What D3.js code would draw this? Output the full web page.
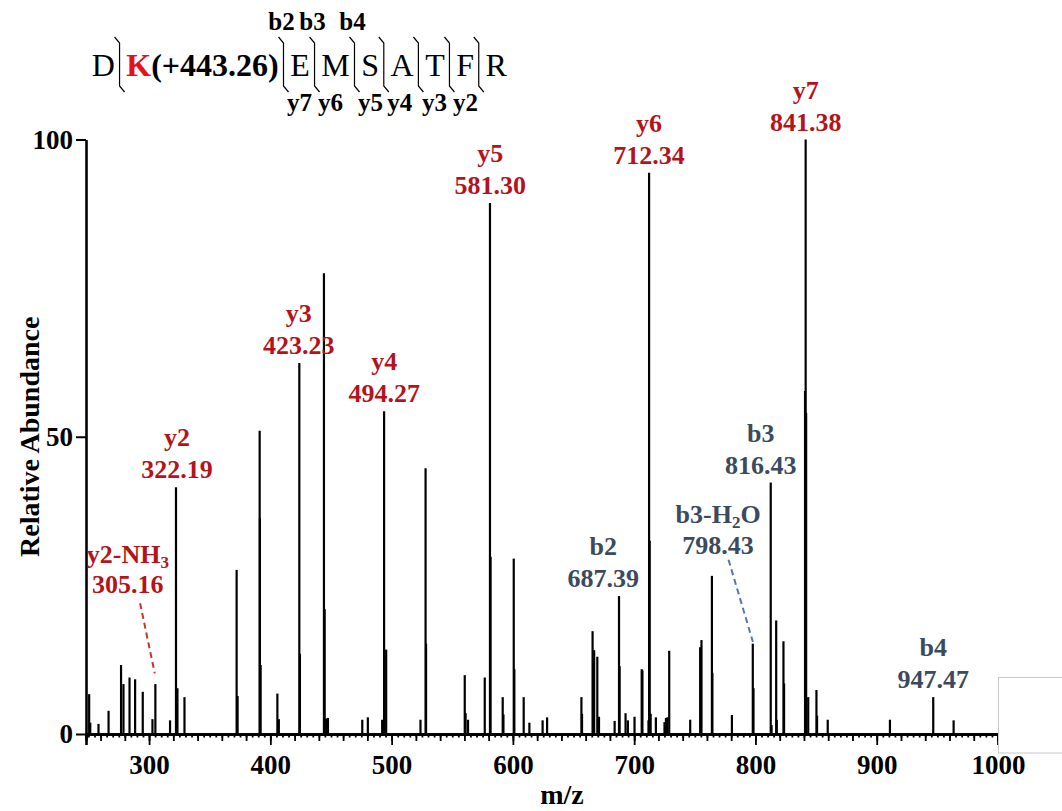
<!DOCTYPE html>
<html>
<head>
<meta charset="utf-8">
<script src="https://cdn.jsdelivr.net/npm/d3@7"></script>
<style>
  body { margin: 0; background: #fff; }
  svg text { font-family: "Liberation Serif", "Times New Roman", serif; }
</style>
</head>
<body>
<div id="chart"></div>
<script>
// peaks: m/z and relative abundance
const peakMz = [250.6, 251.5, 258.3, 266.6, 276.9, 278.9, 283.9, 288.5, 294.8, 302.8,
    305.2, 317.3, 322.2, 323.4, 329.2, 372.2, 373.0, 391.2, 391.4, 392.0,
    405.8, 407.0, 423.9, 424.4, 444.2, 444.8, 446.0, 447.5, 475.8, 480.4,
    492.2, 493.8, 495.5, 523.8, 528.0, 528.4, 560.3, 561.0, 563.0, 576.8,
    581.1, 581.6, 591.6, 592.2, 600.7, 601.2, 608.9, 613.6, 624.5, 628.2,
    656.5, 657.0, 665.7, 667.0, 669.6, 671.0, 683.9, 687.5, 688.0, 692.9,
    694.8, 700.3, 706.2, 706.8, 711.8, 712.3, 712.8, 713.6, 717.9, 725.0,
    726.2, 727.4, 728.9, 746.2, 754.4, 755.5, 764.1, 764.5, 780.6, 797.8,
    798.4, 812.6, 813.3, 817.1, 817.6, 823.1, 823.6, 840.9, 841.4, 841.8,
    843.5, 850.3, 850.8, 859.6, 910.9, 946.6, 963.4];
const peakInt = [6.7, 1.9, 1.7, 3.9, 11.6, 8.4, 9.5, 9.2, 7.1, 2.5,
    8.4, 2.3, 41.5, 7.7, 6.2, 27.6, 6.4, 51.0, 36.3, 11.6,
    6.8, 2.5, 62.4, 13.5, 77.5, 21.0, 2.6, 2.7, 2.4, 2.8,
    2.4, 54.3, 14.2, 2.4, 44.7, 15.2, 9.9, 3.5, 2.4, 9.5,
    89.3, 29.8, 6.2, 3.3, 29.5, 10.9, 6.2, 1.9, 2.3, 2.8,
    6.2, 3.4, 17.3, 14.1, 13.0, 2.9, 2.2, 23.2, 11.4, 3.5,
    2.3, 2.9, 10.9, 10.7, 2.3, 94.4, 32.5, 3.4, 2.8, 2.0,
    2.7, 2.8, 14.0, 2.4, 14.6, 15.8, 26.6, 10.3, 3.2, 15.2,
    7.7, 42.3, 1.5, 19.1, 2.4, 15.6, 8.5, 57.7, 100, 54.0,
    6.2, 7.4, 3.1, 2.4, 2.4, 6.2, 2.3];

// annotated fragment ions ('_' marks a subscript character)
const ionNames = ['y2-NH_3', 'y2', 'y3', 'y4', 'y5', 'y6', 'y7', 'b2', 'b3-H_2O', 'b3', 'b4'];
const ionValues = ['305.16', '322.19', '423.23', '494.27', '581.30', '712.34', '841.38', '687.39', '798.43', '816.43', '947.47'];
const ionSeries = ['y', 'y', 'y', 'y', 'y', 'y', 'y', 'b', 'b', 'b', 'b'];
const labelMz = [282.5, 323.0, 423.5, 494.0, 581.3, 712.3, 841.4, 674.5, 769.2, 804.4, 946.6];
const labelInt = [22.2, 41.5, 62.4, 54.3, 89.3, 94.4, 100, 23.2, 28.8, 42.3, 6.2];
const labelGap = [30, 32, 32, 32, 32, 32, 32, 32, 31, 32, 32];
// dashed leader lines [mz1, int1, mz2, int2]
const leaders = [
    {series: 'y', pts: [292.6, 22.0, 304.7, 10.2]},
    {series: 'b', pts: [777.8, 29.3, 797.9, 15.5]}
];

// peptide sequence
const residues = ['D', 'K', '(+443.26)', 'E', 'M', 'S', 'A', 'T', 'F', 'R'];
const residueColor = ['#000', '#e3121b', '#000', '#000', '#000', '#000', '#000', '#000', '#000', '#000'];
const residueBold = [false, true, true, false, false, false, false, false, false, false];
const cutAfter = [true, false, true, true, true, true, true, true, true, false];
const bIons = ['', '', 'b2', 'b3', 'b4', '', '', '', '', ''];
const yIons = ['', '', 'y7', 'y6', 'y5', 'y4', 'y3', 'y2', '', ''];

const xTicks = [300, 400, 500, 600, 700, 800, 900, 1000];
const yTicks = [0, 50, 100];

const width = 1062, height = 811;
const red = '#b3141c', slate = '#3b4a5e', blueDash = '#5876a6';

let svg = d3.select('#chart').append('svg')
    .attr('width', width)
    .attr('height', height);

let x = d3.scaleLinear().domain([248, 1000]).range([86, 998]);
let y = d3.scaleLinear().domain([0, 100]).range([734, 139.5]);

// ---- axes ----
let xMinor = svg.append('g')
    .attr('transform', `translate(0, ${y(0)})`)
    .call(d3.axisBottom(x).tickValues(d3.range(250, 1001, 5)).tickSize(3.5).tickFormat(''));
let xMid = svg.append('g')
    .attr('transform', `translate(0, ${y(0)})`)
    .call(d3.axisBottom(x).tickValues(d3.range(260, 1001, 20)).tickSize(7).tickFormat(''));
let xAxis = svg.append('g')
    .attr('transform', `translate(0, ${y(0)})`)
    .call(d3.axisBottom(x).tickValues(xTicks).tickSize(11).tickPadding(6).tickFormat(d3.format('d')));

[xMinor, xMid, xAxis].forEach(g => {
    g.selectAll('.tick line').attr('stroke', '#000').attr('stroke-width', 1.8);
    g.select('.domain').attr('stroke', '#000').attr('stroke-width', 2.6);
});
xAxis.selectAll('.tick text')
    .attr('fill', '#000')
    .style('font-size', '27px')
    .style('font-weight', 'bold')
    .attr('dy', '0.85em');

let yAxis = svg.append('g')
    .attr('transform', `translate(${x(248)}, 0)`)
    .call(d3.axisLeft(y).tickValues(yTicks).tickSize(10).tickPadding(3).tickSizeOuter(0));
yAxis.select('.domain').attr('stroke', '#000').attr('stroke-width', 2.6);
yAxis.selectAll('.tick line').attr('stroke', '#000').attr('stroke-width', 2);
yAxis.selectAll('.tick text')
    .attr('fill', '#000')
    .style('font-size', '27px')
    .style('font-weight', 'bold');

svg.append('text')
    .attr('transform', `translate(39, ${(y(0) + y(100)) / 2}) rotate(-90)`)
    .attr('text-anchor', 'middle')
    .style('font-size', '28px')
    .style('font-weight', 'bold')
    .text('Relative Abundance');

svg.append('text')
    .attr('x', 562)
    .attr('y', 804)
    .attr('text-anchor', 'middle')
    .style('font-size', '28px')
    .style('font-weight', 'bold')
    .text('m/z');

// ---- peaks ----
svg.append('g').selectAll('.peak')
    .data(peakMz.map((m, i) => ({mz: m, v: peakInt[i]})))
    .join('line')
    .attr('class', 'peak')
    .attr('x1', d => x(d.mz))
    .attr('x2', d => x(d.mz))
    .attr('y1', y(0))
    .attr('y2', d => y(d.v))
    .attr('stroke', '#000')
    .attr('stroke-width', 2.2);

// ---- leader lines ----
svg.append('g').selectAll('.leader')
    .data(leaders)
    .join('line')
    .attr('x1', d => x(d.pts[0]))
    .attr('y1', d => y(d.pts[1]))
    .attr('x2', d => x(d.pts[2]))
    .attr('y2', d => y(d.pts[3]))
    .attr('stroke', d => d.series === 'y' ? '#c0392b' : blueDash)
    .attr('stroke-width', 2)
    .attr('stroke-dasharray', '6,4');

// ---- ion labels ----
function addRich(textSel, str, subSize) {
    let parts = str.split('_');
    textSel.append('tspan').text(parts[0]);
    for (let i = 1; i < parts.length; i++) {
        textSel.append('tspan').attr('dy', 5).style('font-size', subSize + 'px').text(parts[i][0]);
        textSel.append('tspan').attr('dy', -5).text(parts[i].slice(1));
    }
}

ionNames.forEach((name, i) => {
    let cx = x(labelMz[i]);
    let base2 = y(labelInt[i]) - 9;
    let g = svg.append('g')
        .attr('fill', ionSeries[i] === 'y' ? red : slate)
        .style('font-size', '26px')
        .style('font-weight', 'bold')
        .attr('text-anchor', 'middle');
    let t1 = g.append('text').attr('x', cx).attr('y', base2 - labelGap[i]);
    addRich(t1, name, 17);
    g.append('text').attr('x', cx).attr('y', base2).text(ionValues[i]);
});

// ---- peptide sequence with fragment brackets ----
let seq = svg.append('g');
let cursor = 91.7, gap = 11.5;
residues.forEach((r, i) => {
    let t = seq.append('text')
        .attr('x', cursor)
        .attr('y', 76)
        .attr('fill', residueColor[i])
        .style('font-size', '32px')
        .style('font-weight', residueBold[i] ? 'bold' : 'normal')
        .text(r);
    cursor += t.node().getComputedTextLength();
    if (cutAfter[i]) {
        let bx = cursor + gap / 2 - 1;
        seq.append('path')
            .attr('d', `M${bx - 5},37 L${bx},43 L${bx},86 L${bx + 5},92`)
            .attr('fill', 'none')
            .attr('stroke', '#000')
            .attr('stroke-width', 1.2);
        if (bIons[i]) {
            seq.append('text')
                .attr('x', bx - 2).attr('y', 30)
                .attr('text-anchor', 'middle')
                .style('font-size', '25px').style('font-weight', 'bold')
                .text(bIons[i]);
        }
        if (yIons[i]) {
            seq.append('text')
                .attr('x', bx + 16).attr('y', 111)
                .attr('text-anchor', 'middle')
                .style('font-size', '25px').style('font-weight', 'bold')
                .text(yIons[i]);
        }
        cursor += gap;
    }
});

// stray empty box at the lower right corner
svg.append('rect')
    .attr('x', 998.5)
    .attr('y', 677.5)
    .attr('width', 70)
    .attr('height', 75.5)
    .attr('fill', '#fff')
    .attr('stroke', '#c8c8c8')
    .attr('stroke-width', 1);
</script>
</body>
</html>
